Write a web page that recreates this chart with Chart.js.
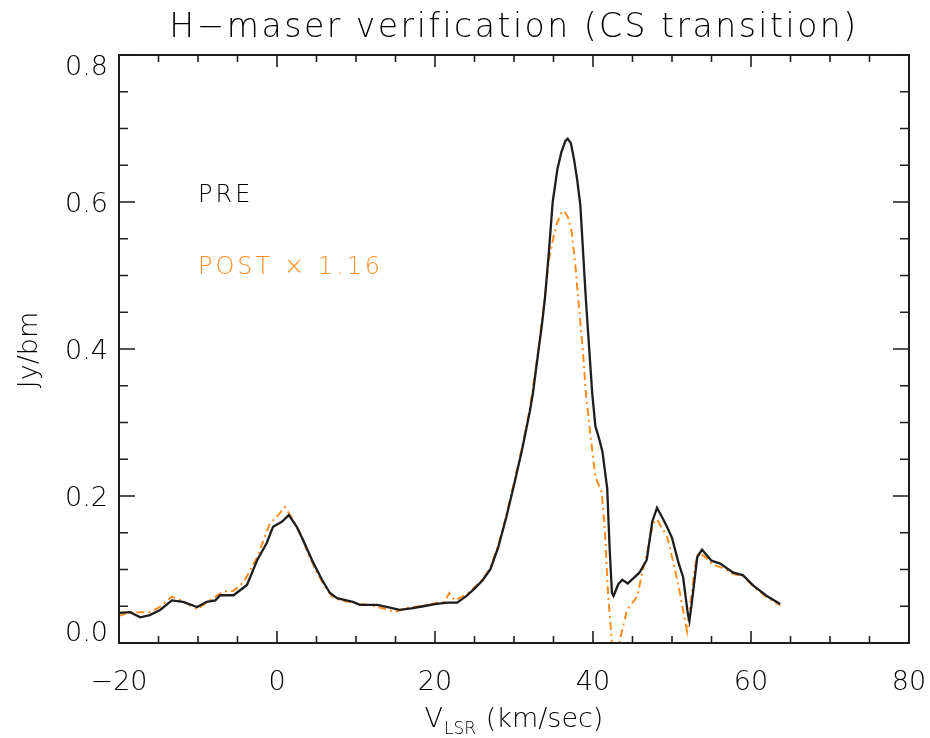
<!DOCTYPE html>
<html>
<head>
<meta charset="utf-8">
<script src="https://cdn.jsdelivr.net/npm/chart.js@4/dist/chart.umd.min.js"></script>
<style>
  html, body { margin: 0; padding: 0; background: #fff; }
  #chart { display: block; }
</style>
</head>
<body>
<canvas id="chart" width="930" height="738"></canvas>
<script>
// spectre PRE (noir)
const preVelocity = [-20, -18.6, -17.3, -16.1, -14.8, -13.3, -11.9, -10.1, -8.9, -7.8, -7.2, -5.5, -3.8, -2.5, -1.3, -0.5,
    0.6, 1.5, 2.5, 3.3, 4.6, 5.7, 6.7, 7.6, 9.6, 10.5, 12.7, 14.3, 15.5, 17, 18.5, 20, 21.5, 22.8, 24, 25, 26, 27, 28, 29,
    30, 31, 32, 32.4, 33, 33.5, 33.9, 34.4, 34.9, 35.5, 36, 36.5, 36.8, 37.2, 37.6, 38, 38.4, 39.1, 39.9, 40.3, 40.8, 41.2,
    41.8, 42.1, 42.4, 42.6, 43.2, 43.7, 44.4, 45.1, 45.9, 46.8, 47.5, 48.1, 48.9, 49.5, 50, 50.8, 51.4, 52, 52.2, 52.5,
    53.2, 53.8, 55, 56.1, 57.7, 59, 60.3, 62, 63.7];
const preFlux = [0.041, 0.042, 0.035, 0.038, 0.045, 0.058, 0.056, 0.049, 0.056, 0.058, 0.065, 0.065, 0.079, 0.113, 0.136, 0.158,
    0.165, 0.174, 0.158, 0.14, 0.109, 0.086, 0.068, 0.061, 0.056, 0.052, 0.052, 0.048, 0.045, 0.047, 0.050, 0.053, 0.055, 0.055, 0.064, 0.074, 0.085, 0.10, 0.13, 0.17,
    0.215, 0.262, 0.315, 0.34, 0.39, 0.43, 0.467, 0.53, 0.60, 0.645, 0.668, 0.683, 0.686, 0.68, 0.658, 0.63, 0.595, 0.467, 0.34, 0.295, 0.277, 0.26,
    0.21, 0.13, 0.068, 0.064, 0.08, 0.086, 0.081, 0.088, 0.096, 0.113, 0.165, 0.184, 0.168, 0.155, 0.143, 0.11, 0.09, 0.04, 0.03, 0.054,
    0.117, 0.127, 0.112, 0.108, 0.096, 0.092, 0.078, 0.064, 0.053];

// spectre POST x 1.16 (orange)
const postVelocity = [-20, -18.6, -16.1, -15, -13.3, -11.9, -10.1, -8.5, -6.8, -5.5, -4.2, -2.5, -0.9, 0, 1.0, 2, 2.9, 4, 5, 6, 7, 8,
    10, 12, 13.5, 14.9, 16.5, 18, 20, 21.2, 21.8, 22.5, 24, 25, 26, 27, 28, 29, 30, 31, 32, 33, 33.9, 34.4, 35, 35.5, 36, 36.3,
    36.8, 37.3, 37.8, 38.2, 38.7, 39.1, 39.6, 40.3, 41.1, 41.5, 41.9, 42.4, 42.9, 43.4, 44.3, 45.6, 46.3, 47, 47.6, 48.1,
    49.4, 50.4, 51, 51.9, 52.5, 52.9, 53.3, 54, 55.2, 56.5, 57.7, 59, 60.3, 62, 63.7];
const postFlux = [0.037, 0.042, 0.042, 0.048, 0.063, 0.057, 0.046, 0.058, 0.07, 0.071, 0.083, 0.117, 0.163, 0.172, 0.185, 0.168, 0.15, 0.12, 0.097, 0.078, 0.063, 0.058,
    0.054, 0.051, 0.047, 0.042, 0.048, 0.05, 0.054, 0.056, 0.068, 0.058, 0.066, 0.076, 0.086, 0.102, 0.133, 0.172, 0.218, 0.265, 0.318, 0.392, 0.47, 0.52, 0.552, 0.573, 0.585, 0.588,
    0.58, 0.56, 0.51, 0.46, 0.40, 0.34, 0.29, 0.226, 0.205, 0.154, 0.068, 0.0, -0.03, 0.004, 0.045, 0.063, 0.099, 0.13, 0.163, 0.168,
    0.144, 0.099, 0.068, 0.016, 0.068, 0.104, 0.122, 0.119, 0.106, 0.102, 0.094, 0.091, 0.077, 0.062, 0.051];

const xTicks = [-20, 0, 20, 40, 60, 80];
const yTickLabels = ['0.0', '0.2', '0.4', '0.6', '0.8'];

const INK = '#1e1e1e';
const TEXT = '#000';
const ORANGE = '#ff8c1e';
const FONT = '"DejaVu Sans", sans-serif';
const TXT = '300 ';

function toPoints(xs, ys) {
    return xs.map((x, i) => ({ x: x, y: ys[i] }));
}

// cadre, graduations et textes façon IDL
const idlFrame = {
    id: 'idlFrame',
    afterDraw(chart) {
        const ctx = chart.ctx;
        const area = chart.chartArea;
        const xs = chart.scales.x;
        const ys = chart.scales.y;
        ctx.save();
        ctx.strokeStyle = INK;
        ctx.lineWidth = 2;
        ctx.strokeRect(area.left, area.top, area.right - area.left, area.bottom - area.top);

        ctx.lineWidth = 1.6;
        ctx.beginPath();
        for (let v = -20; v <= 80; v += 5) {
            const px = xs.getPixelForValue(v);
            const len = v % 20 === 0 ? 12 : 7;
            ctx.moveTo(px, area.bottom); ctx.lineTo(px, area.bottom - len);
            ctx.moveTo(px, area.top); ctx.lineTo(px, area.top + len);
        }
        for (let i = 0; i <= 16; i++) {
            const v = i * 0.05;
            const py = ys.getPixelForValue(v);
            const len = i % 4 === 0 ? 16 : 9;
            ctx.moveTo(area.left, py); ctx.lineTo(area.left + len, py);
            ctx.moveTo(area.right, py); ctx.lineTo(area.right - len, py);
        }
        ctx.stroke();

        // étiquettes de l'axe y
        ctx.fillStyle = TEXT;
        ctx.font = TXT + '27px ' + FONT;
        ctx.textAlign = 'right';
        ctx.textBaseline = 'middle';
        yTickLabels.forEach(lbl => {
            let py = ys.getPixelForValue(parseFloat(lbl)) + 3;
            py = Math.min(Math.max(py, area.top + 13), area.bottom - 9);
            ctx.fillText(lbl, area.left - 11, py);
        });

        // titre
        ctx.textAlign = 'center';
        ctx.font = TXT + '33px ' + FONT;
        ctx.letterSpacing = '2.5px';
        ctx.fillText('H\u2212maser verification (CS transition)', (area.left + area.right) / 2, 28);
        ctx.letterSpacing = '0px';

        // titre axe x avec indice
        ctx.textAlign = 'left';
        ctx.textBaseline = 'alphabetic';
        const big = TXT + '27px ' + FONT;
        const small = TXT + '17px ' + FONT;
        ctx.font = big;
        const wV = ctx.measureText('V').width;
        ctx.font = small;
        const wSub = ctx.measureText('LSR').width;
        ctx.font = big;
        const rest = ' (km/sec)';
        const wRest = ctx.measureText(rest).width;
        let x0 = (area.left + area.right) / 2 - (wV + wSub + 2 + wRest) / 2;
        ctx.fillText('V', x0, 727);
        ctx.font = small;
        ctx.fillText('LSR', x0 + wV + 1, 734);
        ctx.font = big;
        ctx.fillText(rest, x0 + wV + wSub + 2, 727);

        // titre axe y
        ctx.save();
        ctx.translate(30, 350);
        ctx.rotate(-Math.PI / 2);
        ctx.textAlign = 'center';
        ctx.textBaseline = 'middle';
        ctx.font = TXT + '27px ' + FONT;
        ctx.fillText('Jy/bm', 0, 0);
        ctx.restore();

        // légende
        ctx.textAlign = 'left';
        ctx.textBaseline = 'middle';
        ctx.font = TXT + '24px ' + FONT;
        ctx.letterSpacing = '3px';
        ctx.fillStyle = TEXT;
        ctx.fillText('PRE', 198, 196);
        ctx.fillStyle = ORANGE;
        ctx.fillText('POST \u00d7 1.16', 198, 268);
        ctx.letterSpacing = '0px';
        ctx.restore();
    }
};

new Chart(document.getElementById('chart').getContext('2d'), {
    type: 'line',
    data: {
        datasets: [{
            label: 'PRE',
            data: toPoints(preVelocity, preFlux),
            borderColor: INK,
            borderWidth: 2.3,
            pointRadius: 0,
            tension: 0,
            fill: false
        }, {
            label: 'POST x 1.16',
            data: toPoints(postVelocity, postFlux),
            borderColor: ORANGE,
            borderWidth: 2,
            borderDash: [8, 4, 2, 4],
            pointRadius: 0,
            tension: 0,
            fill: false
        }]
    },
    options: {
        responsive: false,
        animation: false,
        devicePixelRatio: 1,
        layout: { padding: { top: 55, right: 21, left: 0, bottom: 0 } },
        scales: {
            x: {
                type: 'linear',
                min: -20,
                max: 80,
                afterBuildTicks: s => { s.ticks = xTicks.map(v => ({ value: v })); },
                ticks: {
                    color: TEXT,
                    font: { family: FONT, size: 27, weight: 300 },
                    padding: 24,
                    maxRotation: 0,
                    autoSkip: false,
                    callback: v => v === -20 ? '\u221220' : String(v)
                },
                grid: { display: false, drawTicks: false },
                border: { display: false },
                afterFit: s => { s.height = 95; s.paddingLeft = 0; s.paddingRight = 0; }
            },
            y: {
                min: 0,
                max: 0.8,
                ticks: { display: false },
                grid: { display: false, drawTicks: false },
                border: { display: false },
                afterFit: s => { s.width = 119; }
            }
        },
        plugins: {
            legend: { display: false },
            tooltip: { enabled: false }
        }
    },
    plugins: [idlFrame]
});
</script>
</body>
</html>
